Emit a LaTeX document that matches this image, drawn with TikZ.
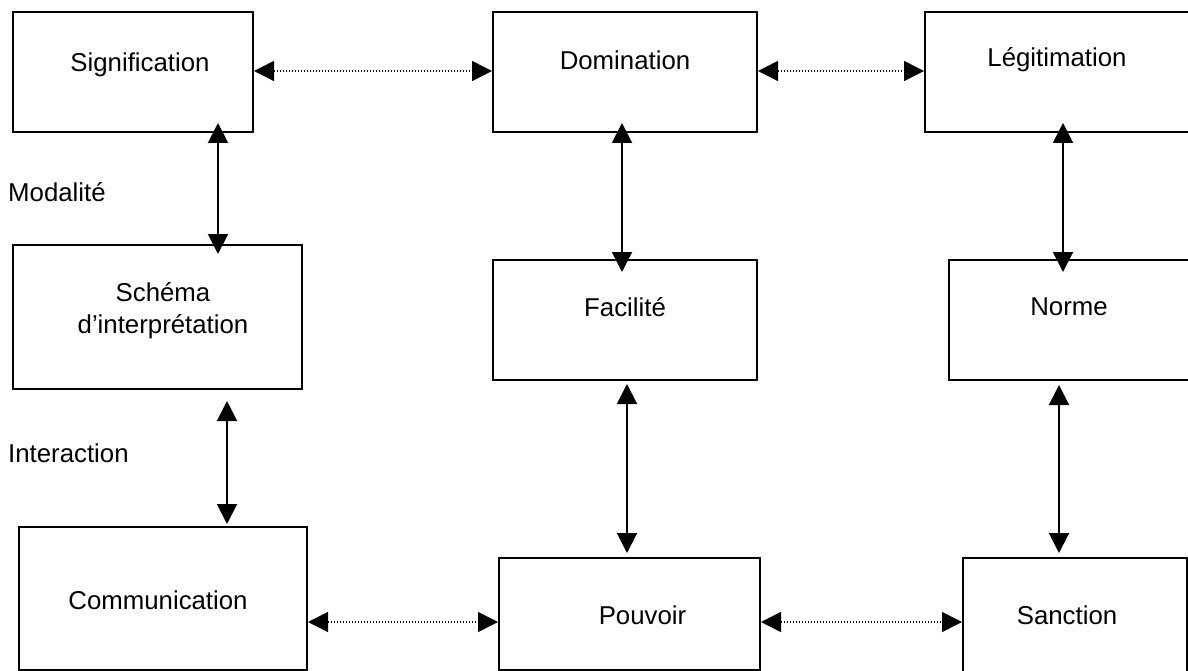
\documentclass[tikz,border=0pt]{standalone}
\usepackage{fontspec}
\setmainfont{Liberation Sans}
\usetikzlibrary{arrows.meta,positioning}

\begin{document}
\begin{tikzpicture}[x=1pt, y=-1pt,
    box/.style={draw, rectangle, line width=2pt, inner sep=0pt},
    lbl/.style={font=\fontsize{25.8}{32}\selectfont, align=center, inner sep=0pt},
    solidlink/.style={{Triangle[length=20pt,width=20pt]}-{Triangle[length=20pt,width=20pt]}, line width=2pt},
    dotlink/.style={{Triangle[length=20pt,width=20pt]}-{Triangle[length=20pt,width=20pt]}, line width=1.5pt, dash pattern=on 1.5pt off 1.5pt}]

    \useasboundingbox (0,0) rectangle (1188,671);

    % Structure
    \node[box, minimum width=240pt, minimum height=120pt, label={[lbl, xshift=7pt, yshift=7pt]center:Signification}] (sig) at (133,72) {};
    \node[box, minimum width=264pt, minimum height=120pt, label={[lbl, yshift=12pt]center:Domination}] (dom) at (625,72) {};
    \node[box, minimum width=270pt, minimum height=120pt, label={[lbl, xshift=-3pt, yshift=12pt]center:Légitimation}] (leg) at (1060,72) {};

    % Modalite
    \node[box, minimum width=289pt, minimum height=144pt, label={[lbl, xshift=5.5pt, yshift=6pt]center:Schéma\\d’interprétation}] (schema) at (157.5,317) {};
    \node[box, minimum width=264pt, minimum height=120pt, label={[lbl, yshift=13pt]center:Facilité}] (fac) at (625,320) {};
    \node[box, minimum width=251pt, minimum height=120pt, label={[lbl, xshift=-5.5pt, yshift=13pt]center:Norme}] (norme) at (1074.5,320) {};

    % Interaction
    \node[box, minimum width=288pt, minimum height=143pt, label={[lbl, xshift=-5pt, yshift=-1.5pt]center:Communication}] (comm) at (163,598.5) {};
    \node[box, minimum width=261pt, minimum height=112pt, label={[lbl, xshift=13pt, yshift=-1pt]center:Pouvoir}] (pouv) at (629.5,614) {};
    \node[box, minimum width=224pt, minimum height=122pt, label={[lbl, xshift=-8pt, yshift=4pt]center:Sanction}] (sanc) at (1075,619) {};

    % Side labels
    \node[lbl, anchor=west] (modal) at (8,192) {Modalité};
    \node[lbl, anchor=west] (inter) at (8,453) {Interaction};

    % Columns and rows of the links
    \coordinate (c1) at (218,0);
    \coordinate (c2) at (227,0);
    \coordinate (c3) at (622,0);
    \coordinate (c4) at (627,0);
    \coordinate (c5) at (1063,0);
    \coordinate (c6) at (1059,0);
    \coordinate (r1) at (0,71);
    \coordinate (r2) at (0,622);

    \draw[solidlink, shorten <=-10pt, shorten >=-10pt] (sig.south -| c1) -- (schema.north -| c1);
    \draw[solidlink, shorten <=11pt, shorten >=2pt] (schema.south -| c2) -- (comm.north -| c2);
    \draw[solidlink, shorten <=-10pt, shorten >=-13pt] (dom.south -| c3) -- (fac.north -| c3);
    \draw[solidlink, shorten <=3pt, shorten >=4pt] (fac.south -| c4) -- (pouv.north -| c4);
    \draw[solidlink, shorten <=-10pt, shorten >=-13pt] (leg.south -| c5) -- (norme.north -| c5);
    \draw[solidlink, shorten <=4pt, shorten >=4pt] (norme.south -| c6) -- (sanc.north -| c6);

    \draw[dotlink] (sig.east |- r1) -- (dom.west |- r1);
    \draw[dotlink] (dom.east |- r1) -- (leg.west |- r1);
    \draw[dotlink] (comm.east |- r2) -- (pouv.west |- r2);
    \draw[dotlink] (pouv.east |- r2) -- (sanc.west |- r2);

\end{tikzpicture}
\end{document}
